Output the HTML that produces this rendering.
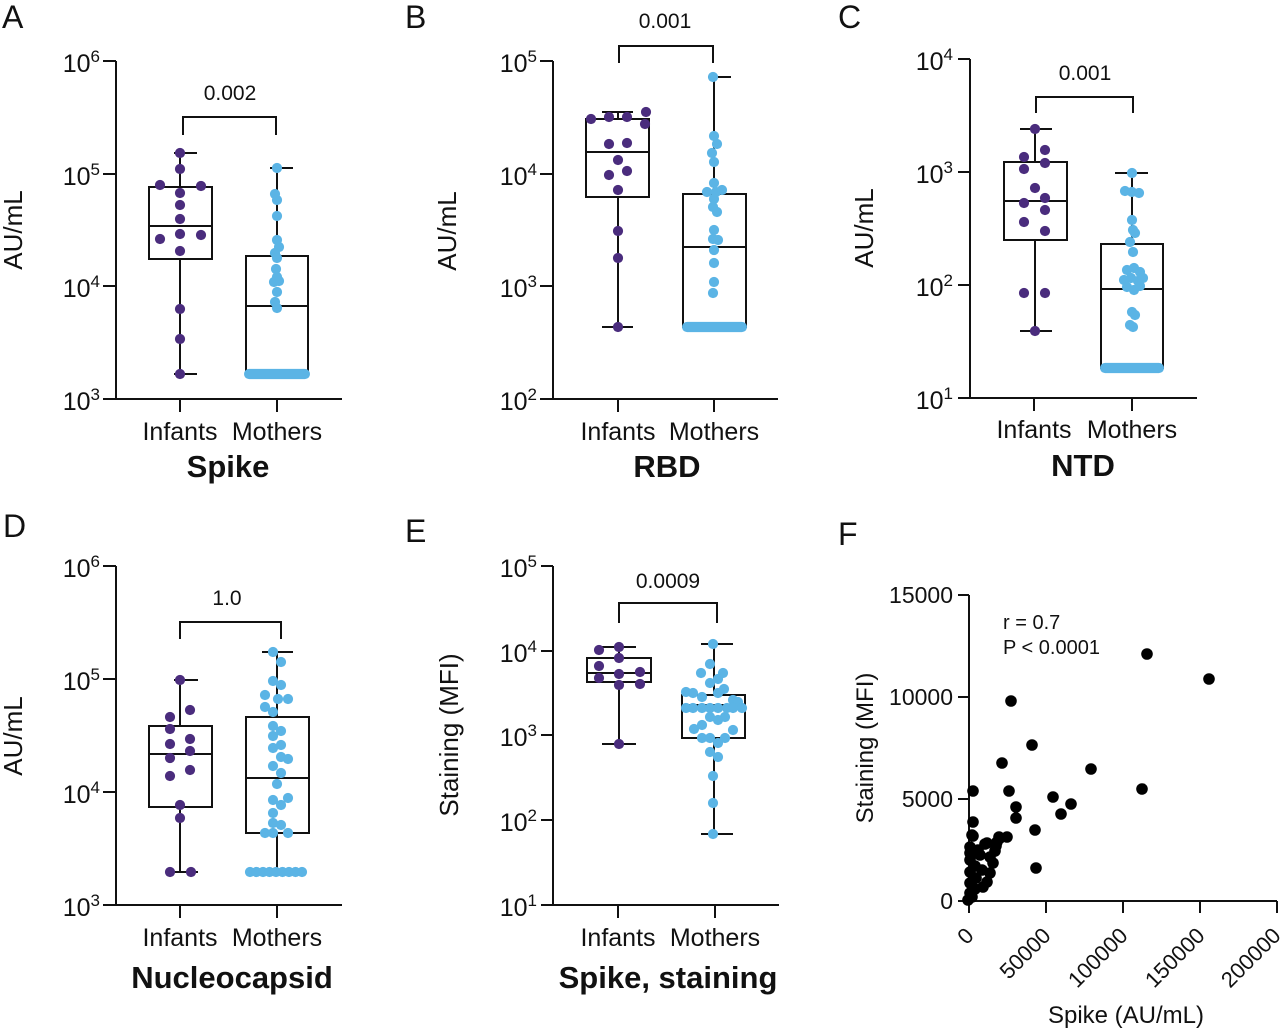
<!DOCTYPE html>
<html>
<head>
<meta charset="utf-8">
<style>
  html,body{margin:0;padding:0;background:#fff;}
  svg{display:block;}
  text{font-family:"Liberation Sans",Arial,sans-serif;fill:#111;}
  .tk{font-size:25px;}
  .sp{font-size:17px;}
  .cat{font-size:25px;text-anchor:middle;}
  .ttl{font-size:31px;font-weight:bold;text-anchor:middle;}
  .pv{font-size:21px;text-anchor:middle;}
  .yl{font-size:26px;text-anchor:middle;}
  .lt{font-size:32px;}
  .ln{stroke:#111;stroke-width:2;fill:none;}
  .pu{fill:#4a2c7d;}
  .bl{fill:#5bb4e5;}
  .bk{fill:#000;}
  .pu circle,.bl circle{r:5.1px;}
  .bk circle{r:5.8px;}
</style>
</head>
<body>
<svg width="1280" height="1031" viewBox="0 0 1280 1031" xmlns="http://www.w3.org/2000/svg">
<rect width="1280" height="1031" fill="#fff"/>

<!-- ================= PANEL A ================= -->
<text class="lt" x="2" y="28">A</text>
<g class="ln">
  <path d="M116 61 V399 H342"/>
  <path d="M103 61 H116 M103 174 H116 M103 286 H116 M103 399 H116"/>
  <path d="M180 399 V412 M277 399 V412"/>
  <path d="M183 135 V117 H276 V135"/>
  <rect x="149" y="187" width="63" height="72"/>
  <path d="M149 226 H212 M180 153 V187 M180 259 V374 M174 153 H197 M174 374 H197"/>
  <rect x="246" y="256" width="62" height="118"/>
  <path d="M246 306 H308 M277 168 V256 M270 168 H293"/>
</g>
<g class="pu">
  <circle cx="180" cy="153" r="5.1"/><circle cx="180" cy="169" r="5.1"/><circle cx="160" cy="185" r="5.1"/>
  <circle cx="201" cy="186" r="5.1"/><circle cx="180" cy="193" r="5.1"/><circle cx="180" cy="205" r="5.1"/>
  <circle cx="180" cy="219" r="5.1"/><circle cx="160" cy="239" r="5.1"/><circle cx="180" cy="234" r="5.1"/>
  <circle cx="201" cy="235" r="5.1"/><circle cx="180" cy="251" r="5.1"/><circle cx="180" cy="309" r="5.1"/>
  <circle cx="180" cy="339" r="5.1"/><circle cx="180" cy="374" r="5.1"/>
</g>
<g class="bl">
  <circle cx="277" cy="168" r="5.1"/><circle cx="275" cy="194" r="5.1"/><circle cx="277" cy="200" r="5.1"/>
  <circle cx="277" cy="216" r="5.1"/><circle cx="277" cy="240" r="5.1"/><circle cx="279" cy="247" r="5.1"/>
  <circle cx="275" cy="253" r="5.1"/><circle cx="277" cy="258" r="5.1"/><circle cx="276" cy="269" r="5.1"/>
  <circle cx="277" cy="277" r="5.1"/><circle cx="274" cy="282" r="5.1"/><circle cx="279" cy="281" r="5.1"/>
  <circle cx="277" cy="292" r="5.1"/><circle cx="275" cy="302" r="5.1"/><circle cx="277" cy="308" r="5.1"/>
  <rect x="244" y="368.9" width="66" height="10.2" rx="5.1"/>
</g>
<text class="tk" x="100" y="72" text-anchor="end">10<tspan class="sp" dy="-10">6</tspan></text>
<text class="tk" x="100" y="185" text-anchor="end">10<tspan class="sp" dy="-10">5</tspan></text>
<text class="tk" x="100" y="297" text-anchor="end">10<tspan class="sp" dy="-10">4</tspan></text>
<text class="tk" x="100" y="410" text-anchor="end">10<tspan class="sp" dy="-10">3</tspan></text>
<text class="yl" transform="translate(22,230) rotate(-90)">AU/mL</text>
<text class="pv" x="230" y="100">0.002</text>
<text class="cat" x="180" y="440">Infants</text>
<text class="cat" x="277" y="440">Mothers</text>
<text class="ttl" x="228" y="477">Spike</text>

<!-- ================= PANEL B ================= -->
<text class="lt" x="405" y="28">B</text>
<g class="ln">
  <path d="M553 61 V399 H778"/>
  <path d="M540 61 H553 M540 174 H553 M540 286 H553 M540 399 H553"/>
  <path d="M618 399 V412 M714 399 V412"/>
  <path d="M619 63 V46 H713 V63"/>
  <rect x="586" y="119" width="63" height="78"/>
  <path d="M586 152 H649 M618 112 V119 M618 197 V327 M602 112 H633 M602 327 H633"/>
  <rect x="683" y="194" width="63" height="133"/>
  <path d="M683 247 H746 M714 77 V194 M708 77 H731"/>
</g>
<g class="pu">
  <circle cx="591" cy="119" r="5.1"/><circle cx="609" cy="117" r="5.1"/><circle cx="627" cy="117" r="5.1"/>
  <circle cx="646" cy="112" r="5.1"/><circle cx="645" cy="124" r="5.1"/><circle cx="609" cy="144" r="5.1"/>
  <circle cx="627" cy="143" r="5.1"/><circle cx="618" cy="160" r="5.1"/><circle cx="609" cy="175" r="5.1"/>
  <circle cx="627" cy="171" r="5.1"/><circle cx="618" cy="190" r="5.1"/><circle cx="618" cy="231" r="5.1"/>
  <circle cx="618" cy="258" r="5.1"/><circle cx="618" cy="327" r="5.1"/>
</g>
<g class="bl">
  <circle cx="713" cy="77" r="5.1"/><circle cx="714" cy="136" r="5.1"/><circle cx="717" cy="144" r="5.1"/>
  <circle cx="712" cy="153" r="5.1"/><circle cx="714" cy="162" r="5.1"/><circle cx="714" cy="183" r="5.1"/>
  <circle cx="707" cy="192" r="5.1"/><circle cx="716" cy="192" r="5.1"/><circle cx="722" cy="190" r="5.1"/>
  <circle cx="714" cy="199" r="5.1"/><circle cx="713" cy="207" r="5.1"/><circle cx="717" cy="212" r="5.1"/>
  <circle cx="714" cy="230" r="5.1"/><circle cx="713" cy="239" r="5.1"/><circle cx="718" cy="240" r="5.1"/>
  <circle cx="714" cy="250" r="5.1"/><circle cx="714" cy="263" r="5.1"/><circle cx="714" cy="282" r="5.1"/>
  <circle cx="713" cy="293" r="5.1"/>
  <rect x="682" y="321.9" width="65" height="10.2" rx="5.1"/>
</g>
<text class="tk" x="537" y="72" text-anchor="end">10<tspan class="sp" dy="-10">5</tspan></text>
<text class="tk" x="537" y="185" text-anchor="end">10<tspan class="sp" dy="-10">4</tspan></text>
<text class="tk" x="537" y="297" text-anchor="end">10<tspan class="sp" dy="-10">3</tspan></text>
<text class="tk" x="537" y="410" text-anchor="end">10<tspan class="sp" dy="-10">2</tspan></text>
<text class="yl" transform="translate(456,231) rotate(-90)">AU/mL</text>
<text class="pv" x="665" y="28">0.001</text>
<text class="cat" x="618" y="440">Infants</text>
<text class="cat" x="714" y="440">Mothers</text>
<text class="ttl" x="667" y="477">RBD</text>

<!-- ================= PANEL C ================= -->
<text class="lt" x="838" y="28">C</text>
<g class="ln">
  <path d="M970 59 V398 H1197"/>
  <path d="M958 59 H970 M958 172 H970 M958 285 H970 M958 398 H970"/>
  <path d="M1034 398 V411 M1132 398 V411"/>
  <path d="M1036 113 V97 H1133 V113"/>
  <rect x="1004" y="162" width="63" height="78"/>
  <path d="M1004 201 H1067 M1035 129 V162 M1035 240 V331 M1020 129 H1052 M1020 331 H1052"/>
  <rect x="1101" y="244" width="62" height="124"/>
  <path d="M1101 289 H1163 M1132 173 V244 M1115 173 H1148"/>
</g>
<g class="pu">
  <circle cx="1035" cy="129" r="5.1"/><circle cx="1024" cy="157" r="5.1"/><circle cx="1045" cy="150" r="5.1"/>
  <circle cx="1024" cy="169" r="5.1"/><circle cx="1045" cy="163" r="5.1"/><circle cx="1035" cy="188" r="5.1"/>
  <circle cx="1024" cy="203" r="5.1"/><circle cx="1045" cy="198" r="5.1"/><circle cx="1045" cy="210" r="5.1"/>
  <circle cx="1024" cy="222" r="5.1"/><circle cx="1045" cy="231" r="5.1"/><circle cx="1024" cy="293" r="5.1"/>
  <circle cx="1045" cy="293" r="5.1"/><circle cx="1035" cy="331" r="5.1"/>
</g>
<g class="bl">
  <circle cx="1132" cy="173" r="5.1"/><circle cx="1125" cy="191" r="5.1"/><circle cx="1132" cy="192" r="5.1"/>
  <circle cx="1139" cy="193" r="5.1"/><circle cx="1132" cy="220" r="5.1"/><circle cx="1133" cy="230" r="5.1"/>
  <circle cx="1135" cy="233" r="5.1"/><circle cx="1130" cy="242" r="5.1"/><circle cx="1133" cy="252" r="5.1"/>
  <circle cx="1127" cy="270" r="5.1"/><circle cx="1134" cy="268" r="5.1"/><circle cx="1140" cy="272" r="5.1"/>
  <circle cx="1124" cy="280" r="5.1"/><circle cx="1131" cy="278" r="5.1"/><circle cx="1138" cy="281" r="5.1"/>
  <circle cx="1143" cy="278" r="5.1"/><circle cx="1127" cy="287" r="5.1"/><circle cx="1134" cy="290" r="5.1"/>
  <circle cx="1140" cy="286" r="5.1"/>
  <circle cx="1132" cy="312" r="5.1"/><circle cx="1135" cy="315" r="5.1"/>
  <circle cx="1130" cy="325" r="5.1"/><circle cx="1133" cy="327" r="5.1"/>
  <rect x="1100" y="362.9" width="64" height="10.2" rx="5.1"/>
</g>
<text class="tk" x="953" y="70" text-anchor="end">10<tspan class="sp" dy="-10">4</tspan></text>
<text class="tk" x="953" y="183" text-anchor="end">10<tspan class="sp" dy="-10">3</tspan></text>
<text class="tk" x="953" y="296" text-anchor="end">10<tspan class="sp" dy="-10">2</tspan></text>
<text class="tk" x="953" y="409" text-anchor="end">10<tspan class="sp" dy="-10">1</tspan></text>
<text class="yl" transform="translate(873,228) rotate(-90)">AU/mL</text>
<text class="pv" x="1085" y="80">0.001</text>
<text class="cat" x="1034" y="438">Infants</text>
<text class="cat" x="1132" y="438">Mothers</text>
<text class="ttl" x="1083" y="476">NTD</text>

<!-- ================= PANEL D ================= -->
<text class="lt" x="3" y="537">D</text>
<g class="ln">
  <path d="M116 566 V905 H342"/>
  <path d="M103 566 H116 M103 679 H116 M103 792 H116 M103 905 H116"/>
  <path d="M180 905 V918 M277 905 V918"/>
  <path d="M180 639 V622 H281 V639"/>
  <rect x="149" y="726" width="63" height="81"/>
  <path d="M149 754 H212 M180 680 V726 M180 807 V872 M174 680 H198 M174 872 H198"/>
  <rect x="246" y="717" width="63" height="116"/>
  <path d="M246 778 H309 M277 652 V717 M277 833 V872 M262 652 H293"/>
</g>
<g class="pu">
  <circle cx="180" cy="680" r="5.1"/><circle cx="170" cy="717" r="5.1"/><circle cx="190" cy="710" r="5.1"/>
  <circle cx="170" cy="729" r="5.1"/><circle cx="170" cy="744" r="5.1"/><circle cx="190" cy="739" r="5.1"/>
  <circle cx="170" cy="758" r="5.1"/><circle cx="190" cy="751" r="5.1"/><circle cx="190" cy="770" r="5.1"/>
  <circle cx="170" cy="776" r="5.1"/><circle cx="180" cy="805" r="5.1"/><circle cx="180" cy="818" r="5.1"/>
  <circle cx="170" cy="872" r="5.1"/><circle cx="191" cy="872" r="5.1"/>
</g>
<g class="bl">
  <circle cx="273" cy="652" r="5.1"/><circle cx="281" cy="662" r="5.1"/><circle cx="273" cy="681" r="5.1"/>
  <circle cx="281" cy="685" r="5.1"/><circle cx="265" cy="695" r="5.1"/><circle cx="278" cy="699" r="5.1"/>
  <circle cx="288" cy="699" r="5.1"/><circle cx="265" cy="707" r="5.1"/><circle cx="273" cy="712" r="5.1"/>
  <circle cx="273" cy="726" r="5.1"/><circle cx="281" cy="731" r="5.1"/><circle cx="273" cy="736" r="5.1"/>
  <circle cx="281" cy="745" r="5.1"/><circle cx="273" cy="748" r="5.1"/><circle cx="281" cy="757" r="5.1"/>
  <circle cx="288" cy="759" r="5.1"/><circle cx="273" cy="766" r="5.1"/><circle cx="281" cy="773" r="5.1"/>
  <circle cx="277" cy="784" r="5.1"/><circle cx="273" cy="800" r="5.1"/><circle cx="281" cy="805" r="5.1"/>
  <circle cx="288" cy="798" r="5.1"/><circle cx="273" cy="813" r="5.1"/><circle cx="273" cy="823" r="5.1"/>
  <circle cx="281" cy="825" r="5.1"/><circle cx="265" cy="833" r="5.1"/><circle cx="273" cy="833" r="5.1"/>
  <circle cx="288" cy="833" r="5.1"/>
  <circle cx="250" cy="872" r="5.1"/><circle cx="256.5" cy="872" r="5.1"/><circle cx="263" cy="872" r="5.1"/>
  <circle cx="269.5" cy="872" r="5.1"/><circle cx="276" cy="872" r="5.1"/><circle cx="282.5" cy="872" r="5.1"/>
  <circle cx="289" cy="872" r="5.1"/><circle cx="295.5" cy="872" r="5.1"/><circle cx="302" cy="872" r="5.1"/>
</g>
<text class="tk" x="100" y="577" text-anchor="end">10<tspan class="sp" dy="-10">6</tspan></text>
<text class="tk" x="100" y="690" text-anchor="end">10<tspan class="sp" dy="-10">5</tspan></text>
<text class="tk" x="100" y="803" text-anchor="end">10<tspan class="sp" dy="-10">4</tspan></text>
<text class="tk" x="100" y="916" text-anchor="end">10<tspan class="sp" dy="-10">3</tspan></text>
<text class="yl" transform="translate(22,736) rotate(-90)">AU/mL</text>
<text class="pv" x="227" y="605">1.0</text>
<text class="cat" x="180" y="946">Infants</text>
<text class="cat" x="277" y="946">Mothers</text>
<text class="ttl" x="232" y="988">Nucleocapsid</text>

<!-- ================= PANEL E ================= -->
<text class="lt" x="405" y="542">E</text>
<g class="ln">
  <path d="M553 566 V905 H779"/>
  <path d="M541 566 H553 M541 651 H553 M541 735 H553 M541 820 H553 M541 905 H553"/>
  <path d="M618 905 V918 M715 905 V918"/>
  <path d="M619 623 V603 H717 V623"/>
  <rect x="587" y="658" width="64" height="24"/>
  <path d="M587 673 H651 M619 647 V658 M619 682 V744 M602 647 H636 M602 744 H636"/>
  <rect x="682" y="695" width="63" height="43"/>
  <path d="M682 705 H745 M714 644 V695 M714 738 V834 M701 644 H733 M701 834 H733"/>
</g>
<g class="pu">
  <circle cx="599" cy="650" r="5.1"/><circle cx="619" cy="647" r="5.1"/><circle cx="619" cy="658" r="5.1"/>
  <circle cx="599" cy="666" r="5.1"/><circle cx="599" cy="678" r="5.1"/><circle cx="619" cy="674" r="5.1"/>
  <circle cx="619" cy="685" r="5.1"/><circle cx="640" cy="672" r="5.1"/><circle cx="640" cy="684" r="5.1"/>
  <circle cx="619" cy="744" r="5.1"/>
</g>
<g class="bl">
  <circle cx="713" cy="644" r="5.1"/><circle cx="710" cy="664" r="5.1"/><circle cx="701" cy="673" r="5.1"/>
  <circle cx="723" cy="673" r="5.1"/><circle cx="718" cy="679" r="5.1"/><circle cx="710" cy="683" r="5.1"/>
  <circle cx="686" cy="692" r="5.1"/><circle cx="693" cy="693" r="5.1"/><circle cx="702" cy="697" r="5.1"/>
  <circle cx="718" cy="693" r="5.1"/><circle cx="724" cy="689" r="5.1"/><circle cx="733" cy="700" r="5.1"/>
  <circle cx="738" cy="702" r="5.1"/><circle cx="686" cy="708" r="5.1"/><circle cx="693" cy="708" r="5.1"/>
  <circle cx="702" cy="708" r="5.1"/><circle cx="710" cy="708" r="5.1"/><circle cx="718" cy="708" r="5.1"/>
  <circle cx="727" cy="708" r="5.1"/><circle cx="733" cy="708" r="5.1"/><circle cx="742" cy="708" r="5.1"/>
  <circle cx="710" cy="717" r="5.1"/><circle cx="718" cy="720" r="5.1"/><circle cx="725" cy="717" r="5.1"/>
  <circle cx="702" cy="725" r="5.1"/><circle cx="694" cy="729" r="5.1"/><circle cx="733" cy="730" r="5.1"/>
  <circle cx="702" cy="738" r="5.1"/><circle cx="710" cy="738" r="5.1"/><circle cx="718" cy="743" r="5.1"/>
  <circle cx="725" cy="738" r="5.1"/><circle cx="710" cy="752" r="5.1"/><circle cx="718" cy="757" r="5.1"/>
  <circle cx="713" cy="776" r="5.1"/><circle cx="713" cy="803" r="5.1"/><circle cx="713" cy="834" r="5.1"/>
</g>
<text class="tk" x="537" y="577" text-anchor="end">10<tspan class="sp" dy="-10">5</tspan></text>
<text class="tk" x="537" y="662" text-anchor="end">10<tspan class="sp" dy="-10">4</tspan></text>
<text class="tk" x="537" y="746" text-anchor="end">10<tspan class="sp" dy="-10">3</tspan></text>
<text class="tk" x="537" y="831" text-anchor="end">10<tspan class="sp" dy="-10">2</tspan></text>
<text class="tk" x="537" y="916" text-anchor="end">10<tspan class="sp" dy="-10">1</tspan></text>
<text class="yl" transform="translate(458,735) rotate(-90)">Staining (MFI)</text>
<text class="pv" x="668" y="588">0.0009</text>
<text class="cat" x="618" y="946">Infants</text>
<text class="cat" x="715" y="946">Mothers</text>
<text class="ttl" x="668" y="988">Spike, staining</text>

<!-- ================= PANEL F ================= -->
<text class="lt" x="838" y="545">F</text>
<g class="ln">
  <path d="M969 595 V901 H1277"/>
  <path d="M958 595 H969 M958 697 H969 M958 799 H969 M958 901 H969"/>
  <path d="M969 901 V913 M1046 901 V913 M1123 901 V913 M1200 901 V913 M1277 901 V913"/>
</g>
<g class="bk">
  <circle cx="1147" cy="654" r="5.8"/><circle cx="1209" cy="679" r="5.8"/><circle cx="1011" cy="701" r="5.8"/>
  <circle cx="1032" cy="745" r="5.8"/><circle cx="1002" cy="763" r="5.8"/><circle cx="1091" cy="769" r="5.8"/>
  <circle cx="973" cy="791" r="5.8"/><circle cx="1009" cy="791" r="5.8"/><circle cx="1142" cy="789" r="5.8"/>
  <circle cx="1053" cy="797" r="5.8"/><circle cx="1071" cy="804" r="5.8"/><circle cx="1016" cy="807" r="5.8"/>
  <circle cx="1061" cy="814" r="5.8"/><circle cx="1016" cy="818" r="5.8"/><circle cx="973" cy="822" r="5.8"/>
  <circle cx="1035" cy="830" r="5.8"/><circle cx="973" cy="836" r="5.8"/><circle cx="999" cy="837" r="5.8"/>
  <circle cx="1007" cy="837" r="5.8"/><circle cx="987" cy="843" r="5.8"/><circle cx="996" cy="846" r="5.8"/>
  <circle cx="1036" cy="868" r="5.8"/>
  <circle cx="972" cy="835" r="5.8"/><circle cx="985" cy="844" r="5.8"/><circle cx="997" cy="842" r="5.8"/>
  <circle cx="970" cy="847" r="5.8"/><circle cx="978" cy="850" r="5.8"/><circle cx="970" cy="853" r="5.8"/>
  <circle cx="980" cy="855" r="5.8"/><circle cx="990" cy="857" r="5.8"/><circle cx="993" cy="863" r="5.8"/>
  <circle cx="970" cy="860" r="5.8"/><circle cx="975" cy="866" r="5.8"/><circle cx="982" cy="870" r="5.8"/>
  <circle cx="970" cy="872" r="5.8"/><circle cx="976" cy="878" r="5.8"/><circle cx="987" cy="882" r="5.8"/>
  <circle cx="970" cy="883" r="5.8"/><circle cx="975" cy="889" r="5.8"/><circle cx="970" cy="893" r="5.8"/>
  <circle cx="972" cy="897" r="5.8"/><circle cx="968" cy="900" r="5.8"/><circle cx="983" cy="887" r="5.8"/>
  <circle cx="990" cy="873" r="5.8"/><circle cx="995" cy="851" r="5.8"/><circle cx="1000" cy="838" r="5.8"/>
</g>
<g style="font-size:23px;">
  <text x="953" y="603" text-anchor="end">15000</text>
  <text x="953" y="705" text-anchor="end">10000</text>
  <text x="953" y="807" text-anchor="end">5000</text>
  <text x="953" y="909" text-anchor="end">0</text>
</g>
<g style="font-size:22px;">
  <text text-anchor="end" transform="translate(975,937) rotate(-45)">0</text>
  <text text-anchor="end" transform="translate(1052,937) rotate(-45)">50000</text>
  <text text-anchor="end" transform="translate(1129,937) rotate(-45)">100000</text>
  <text text-anchor="end" transform="translate(1206,937) rotate(-45)">150000</text>
  <text text-anchor="end" transform="translate(1282,937) rotate(-45)">200000</text>
</g>
<text style="font-size:24px;" text-anchor="middle" transform="translate(873,748) rotate(-90)">Staining (MFI)</text>
<text style="font-size:24px;" x="1126" y="1023" text-anchor="middle">Spike (AU/mL)</text>
<text style="font-size:20px;" x="1003" y="629">r = 0.7</text>
<text style="font-size:20px;" x="1003" y="654">P &lt; 0.0001</text>
</svg>
</body>
</html>
